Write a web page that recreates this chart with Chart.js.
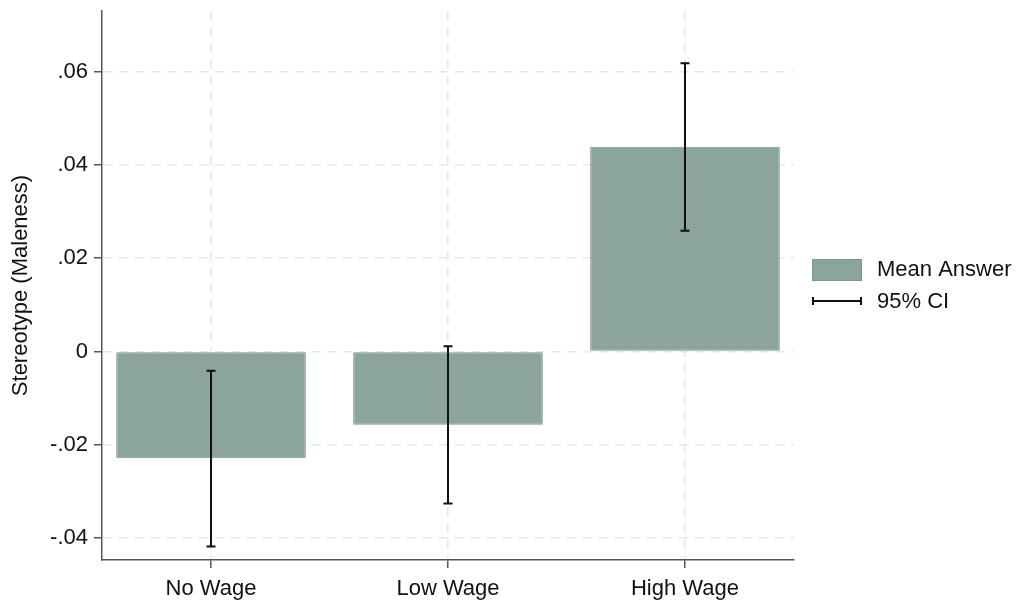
<!DOCTYPE html>
<html>
<head>
<meta charset="utf-8">
<script src="https://cdn.jsdelivr.net/npm/chart.js@4.4.1/dist/chart.umd.min.js"></script>
<style>
  body { margin: 0; background: #fff; }
  #wrap { width: 1016px; height: 601px; }
</style>
</head>
<body>
<div id="wrap"><canvas id="chart1" width="1016" height="601"></canvas></div>
<script>
// Stereotype (Maleness) by wage condition, mean + 95% CI
const categories = ['No Wage', 'Low Wage', 'High Wage'];
const catPositions = [1, 2, 3];
const meanAnswer = [-0.0229, -0.0157, 0.0439];
const ciLow = [-0.0418, -0.0326, 0.0259];
const ciHigh = [-0.0041, 0.0011, 0.0618];
const yTicks = [-0.04, -0.02, 0, 0.02, 0.04, 0.06];

const barFill = 'rgb(139,165,155)';
const barEdge = 'rgb(122,151,139)';
const fontFamily = '"Liberation Sans", Arial, sans-serif';

const errorBars = {
    id: 'errorBars',
    afterDatasetsDraw(chart) {
        const ctx = chart.ctx;
        const xs = chart.scales.x, ys = chart.scales.y;
        ctx.save();
        ctx.strokeStyle = '#111';
        ctx.lineWidth = 2;
        catPositions.forEach((p, i) => {
            const x = xs.getPixelForValue(p);
            const y1 = ys.getPixelForValue(ciLow[i]);
            const y2 = ys.getPixelForValue(ciHigh[i]);
            ctx.beginPath();
            ctx.moveTo(x, y1); ctx.lineTo(x, y2);
            ctx.moveTo(x - 4.5, y1); ctx.lineTo(x + 4.5, y1);
            ctx.moveTo(x - 4.5, y2); ctx.lineTo(x + 4.5, y2);
            ctx.stroke();
        });
        ctx.restore();
    }
};

// legend at the right, drawn by hand
const sideLegend = {
    id: 'sideLegend',
    afterDraw(chart) {
        const ctx = chart.ctx;
        const x0 = chart.chartArea.right + 18;
        ctx.save();
        ctx.fillStyle = barFill;
        ctx.strokeStyle = barEdge;
        ctx.lineWidth = 1;
        ctx.fillRect(x0, 259, 50, 22);
        ctx.strokeRect(x0 + 0.5, 259.5, 49, 21);
        ctx.strokeStyle = '#111';
        ctx.lineWidth = 2;
        ctx.beginPath();
        ctx.moveTo(x0, 301); ctx.lineTo(x0 + 50, 301);
        ctx.moveTo(x0 + 1, 297); ctx.lineTo(x0 + 1, 305);
        ctx.moveTo(x0 + 49, 297); ctx.lineTo(x0 + 49, 305);
        ctx.stroke();
        ctx.fillStyle = '#111';
        ctx.font = '22px ' + fontFamily;
        ctx.textBaseline = 'middle';
        ctx.fillText('Mean Answer', x0 + 65, 270);
        ctx.fillText('95% CI', x0 + 65, 302);
        ctx.restore();
    }
};

const ctx1 = document.getElementById('chart1').getContext('2d');
const chart1 = new Chart(ctx1, {
    type: 'bar',
    data: {
        datasets: [{
            label: 'Mean Answer',
            data: catPositions.map((p, i) => ({ x: p, y: meanAnswer[i] })),
            backgroundColor: barFill,
            borderColor: barEdge,
            borderWidth: 1,
            borderSkipped: false,
            categoryPercentage: 1,
            barPercentage: 0.8
        }]
    },
    options: {
        responsive: false,
        animation: false,
        layout: { padding: { left: 0, right: 222, top: 11, bottom: 0 } },
        plugins: {
            legend: { display: false },
            tooltip: { enabled: false }
        },
        scales: {
            x: {
                type: 'linear',
                offset: false,
                min: 0.54,
                max: 3.46,
                afterBuildTicks: s => { s.ticks = catPositions.map(v => ({ value: v })); },
                afterFit: s => { s.height = 41; s.paddingLeft = 0; s.paddingRight = 0; },
                ticks: {
                    callback: v => categories[catPositions.indexOf(v)],
                    color: '#111',
                    padding: 8,
                    maxRotation: 0,
                    font: { size: 22, family: fontFamily }
                },
                grid: {
                    offset: false,
                    color: '#e8e8e8',
                    lineWidth: 1.5,
                    tickColor: '#555',
                    tickLength: 8,
                    tickBorderDash: []
                },
                border: { color: '#555', width: 1.5, dash: [10, 6] }
            },
            y: {
                min: -0.0447,
                max: 0.0730,
                afterBuildTicks: s => { s.ticks = yTicks.map(v => ({ value: v })); },
                afterFit: s => { s.width = 102; s.paddingTop = 0; s.paddingBottom = 0; },
                ticks: {
                    callback: v => v === 0 ? '0' : v.toFixed(2).replace('0.', '.'),
                    color: '#111',
                    padding: 6,
                    font: { size: 22, family: fontFamily }
                },
                title: {
                    display: true,
                    text: 'Stereotype (Maleness)',
                    color: '#111',
                    padding: { top: 8 },
                    font: { size: 22, family: fontFamily }
                },
                grid: {
                    color: '#e8e8e8',
                    lineWidth: 1.5,
                    tickColor: '#555',
                    tickLength: 8,
                    tickBorderDash: []
                },
                border: { color: '#555', width: 1.5, dash: [10, 6] }
            }
        }
    },
    plugins: [errorBars, sideLegend]
});
</script>
</body>
</html>
